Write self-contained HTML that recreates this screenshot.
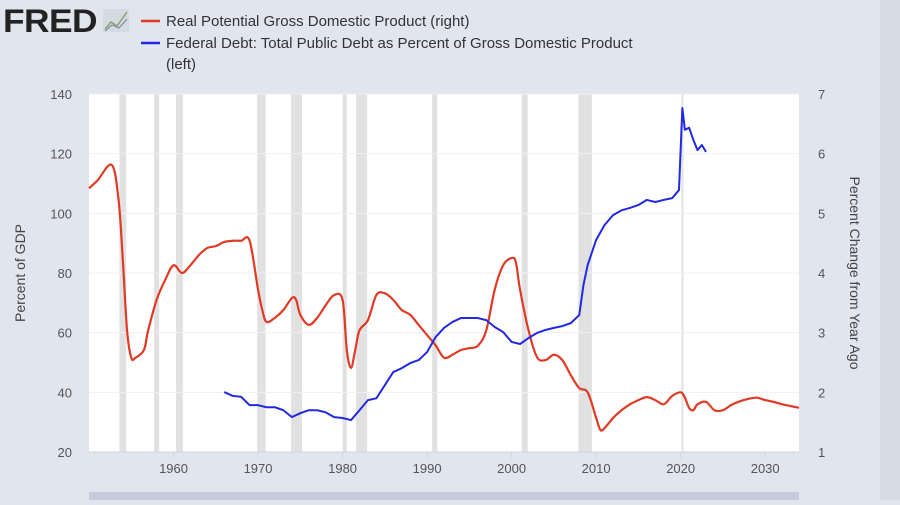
<!DOCTYPE html>
<html><head><meta charset="utf-8"><style>
body{margin:0;width:900px;height:500px;overflow:hidden;background:#e1e5ee;font-family:"Liberation Sans",sans-serif}
svg text{font-family:"Liberation Sans",sans-serif}
</style></head><body>
<svg id="c" width="900" height="500">
<rect x="880" y="0" width="20" height="500" fill="#d6dbe5"/>
<g>
<text x="3" y="32" font-size="32" font-weight="bold" fill="#222" letter-spacing="-0.5" textLength="94" lengthAdjust="spacingAndGlyphs">FRED</text>
<rect x="103" y="9" width="26" height="23" fill="#d4dbe3" rx="2"/>
<polyline points="105,29 111,22 117,26 127,12" fill="none" stroke="#8aa26a" stroke-width="1.5"/>
<polyline points="105,31 112,25 119,28 127,19" fill="none" stroke="#7a8fa8" stroke-width="1.2"/>
</g>
<g>
<line x1="141" y1="21" x2="160" y2="21" stroke="#e03a24" stroke-width="2.5"/>
<text x="166" y="26" font-size="15" fill="#333">Real Potential Gross Domestic Product (right)</text>
<line x1="141" y1="43" x2="160" y2="43" stroke="#2229e0" stroke-width="2.5"/>
<text x="166" y="48" font-size="15" fill="#333">Federal Debt: Total Public Debt as Percent of Gross Domestic Product</text>
<text x="166" y="69" font-size="15" fill="#333">(left)</text>
</g>
<rect x="89" y="94" width="710" height="358" fill="#fff"/>
<g id="rec"></g><g id="grid"></g><g id="axes"></g><g id="series"></g>
<text transform="translate(25,273) rotate(-90)" text-anchor="middle" font-size="14" fill="#444">Percent of GDP</text>
<text transform="translate(850,273) rotate(90)" text-anchor="middle" font-size="14" fill="#444">Percent Change from Year Ago</text>
<rect x="89" y="492" width="710" height="8" fill="#c5cddd"/>
</svg>
<script>
const recessions=[[1953.6,1954.4],[1957.7,1958.3],[1960.3,1961.1],[1969.9,1970.9],[1973.9,1975.2],[1980.0,1980.5],[1981.6,1982.9],[1990.6,1991.2],[2001.2,2001.9],[2007.9,2009.5],[2020.1,2020.3]];
const xTicks=[1960,1970,1980,1990,2000,2010,2020,2030];
const leftTicks=[20,40,60,80,100,120,140];
const rightTicks=[1,2,3,4,5,6,7];
const potYears=[1950,1951,1952.7,1953.5,1954,1954.5,1955,1955.5,1956.5,1957,1958,1959,1960,1961,1962,1963,1964,1965,1966,1967,1968,1969,1970,1970.5,1971,1972,1973,1974,1974.5,1975,1976,1977,1978,1979,1980,1980.5,1981,1981.5,1982,1983,1984,1985,1986,1987,1988,1989,1990,1991,1992,1993,1994,1995,1996,1997,1998,1999,2000,2000.5,2001,2002,2003,2004,2005,2006,2007,2008,2009,2010,2010.5,2011,2012,2013,2014,2015,2016,2017,2018,2019,2020,2020.5,2021,2021.5,2022,2023,2024,2025,2026,2027,2028,2029,2030,2031,2032,2033,2034];
const potValues=[5.42,5.55,5.81,5.22,4.22,3.04,2.58,2.58,2.71,3.04,3.55,3.88,4.13,4.0,4.13,4.30,4.42,4.45,4.52,4.54,4.54,4.54,3.72,3.38,3.18,3.25,3.38,3.58,3.55,3.30,3.13,3.25,3.46,3.63,3.55,2.71,2.41,2.71,3.04,3.21,3.63,3.66,3.55,3.38,3.30,3.13,2.96,2.79,2.58,2.63,2.71,2.74,2.78,3.04,3.72,4.13,4.25,4.18,3.72,3.04,2.59,2.54,2.63,2.54,2.29,2.07,2.0,1.57,1.37,1.40,1.57,1.70,1.80,1.87,1.92,1.87,1.80,1.94,2.0,1.91,1.74,1.70,1.80,1.84,1.70,1.70,1.79,1.85,1.89,1.91,1.87,1.84,1.80,1.77,1.74];
const debtYears=[1966,1967,1968,1969,1970,1971,1972,1973,1974,1975,1976,1977,1978,1979,1980,1981,1982,1983,1984,1985,1986,1987,1988,1989,1990,1991,1992,1993,1994,1995,1996,1997,1998,1999,2000,2001,2002,2003,2004,2005,2006,2007,2008,2008.5,2009,2010,2011,2012,2013,2014,2015,2016,2017,2018,2019,2019.8,2020.2,2020.5,2021,2021.5,2022,2022.5,2023];
const debtValues=[40.1,38.8,38.5,35.7,35.7,35.0,35.0,34.0,31.7,33.0,34.0,34.0,33.3,31.7,31.4,30.7,34.0,37.4,38.0,42.4,46.8,48.1,49.8,50.8,53.5,58.5,61.6,63.6,64.9,64.9,64.9,64.2,61.9,60.2,56.9,56.2,58.2,59.9,60.9,61.6,62.2,63.2,65.9,76,82.7,91.1,96.1,99.4,101,101.8,102.8,104.5,103.8,104.5,105.1,107.8,135.3,128,128.7,124.6,121.2,122.9,120.6];
const X=y=>89+(y-1950)*710/84, YL=v=>452-(v-20)*358/120, YR=v=>452-(v-1)*358/6;
const NS="http://www.w3.org/2000/svg";
function mk(parent,tag,attrs){const e=document.createElementNS(NS,tag);for(const k in attrs)e.setAttribute(k,attrs[k]);document.getElementById(parent).appendChild(e);return e;}
function smooth(pts){let d='M'+pts[0][0]+','+pts[0][1];for(let i=0;i<pts.length-1;i++){const p0=pts[Math.max(i-1,0)],p1=pts[i],p2=pts[i+1],p3=pts[Math.min(i+2,pts.length-1)];
const c1=[p1[0]+(p2[0]-p0[0])/6,p1[1]+(p2[1]-p0[1])/6],c2=[p2[0]-(p3[0]-p1[0])/6,p2[1]-(p3[1]-p1[1])/6];
d+=' C'+c1[0]+','+c1[1]+' '+c2[0]+','+c2[1]+' '+p2[0]+','+p2[1];}return d;}
recessions.forEach(r=>{const e=mk('rec','rect',{x:X(r[0]),y:94,width:Math.max(X(r[1])-X(r[0]),2),height:358,fill:'#e1e1e1'});

});
leftTicks.forEach(v=>{const g=mk('grid','line',{x1:89,x2:799,y1:YL(v),y2:YL(v),stroke:'#eef0f4','stroke-width':1});


const t=mk('axes','text',{x:72,y:YL(v)+5,'text-anchor':'end','font-size':13,fill:'#555'});t.textContent=v;

});
rightTicks.forEach(v=>{const t=mk('axes','text',{x:818,y:YR(v)+5,'font-size':13,fill:'#555'});t.textContent=v;

});
xTicks.forEach(v=>{const l=mk('axes','line',{x1:X(v),x2:X(v),y1:452,y2:458,stroke:'#ccd6eb'});


const t=mk('axes','text',{x:X(v),y:473,'text-anchor':'middle','font-size':13,fill:'#555'});t.textContent=v;

});
const ax=mk('axes','line',{x1:89,x2:799,y1:452,y2:452,stroke:'#ccd6eb'});


const p1=mk('series','path',{d:smooth(potYears.map((y,i)=>[X(y),YR(potValues[i])])),fill:'none',stroke:'#e03a24','stroke-width':2.2,'stroke-linejoin':'round'});


const p2=mk('series','polyline',{points:debtYears.map((y,i)=>X(y)+','+YL(debtValues[i])).join(' '),fill:'none',stroke:'#2229e0','stroke-width':2,'stroke-linejoin':'round'});


</script>
</body></html>
